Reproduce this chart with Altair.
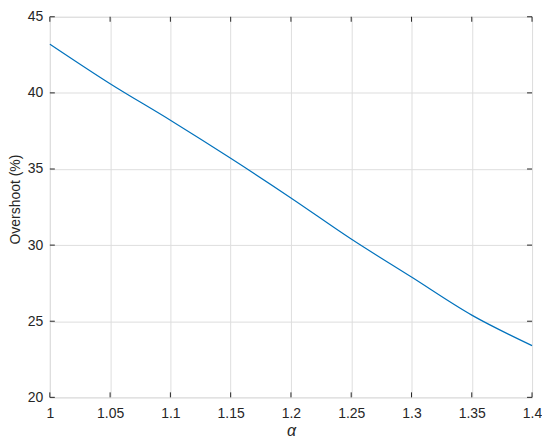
import altair as alt
import pandas as pd

alpha = [1.0, 1.05, 1.1, 1.15, 1.2, 1.25, 1.3, 1.35, 1.4]
overshoot = [43.2, 40.6, 38.2, 35.7, 33.1, 30.4, 27.9, 25.4, 23.4]
x_ticks = [1.0, 1.05, 1.1, 1.15, 1.2, 1.25, 1.3, 1.35, 1.4]
y_ticks = [20, 25, 30, 35, 40, 45]

W, H = 484, 382
INK = "#262626"
FONT = "Liberation Sans"

df = pd.DataFrame({"alpha": alpha, "overshoot": overshoot})
xt = pd.DataFrame({"xt": x_ticks})
yt = pd.DataFrame({"yt": y_ticks})

xs = alt.Scale(domain=[1.0, 1.4], nice=False, zero=False)
ys = alt.Scale(domain=[20, 45], nice=False, zero=False)

line = alt.Chart(df).mark_line(color="#0072BD", strokeWidth=1.2, interpolate="monotone").encode(
    x=alt.X("alpha:Q", scale=xs, axis=alt.Axis(
        values=x_ticks, title="α", titleFontStyle="italic", titleFontWeight="normal",
        titleFontSize=16, titleColor=INK, titleX=W / 2, titleY=38,
        titleBaseline="alphabetic", titleAlign="center", labelFontSize=14,
        labelColor=INK, labelPadding=9, tickSize=0, domain=False,
        grid=True, gridColor="#dedede", labelFlush=False,
        labelExpr="format(datum.value, '.3~f')")),
    y=alt.Y("overshoot:Q", scale=ys, axis=alt.Axis(
        values=y_ticks, title="Overshoot (%)", titleFontWeight="normal",
        titleFontSize=14, titleColor=INK, titleX=-30, titleY=183, titleAngle=270,
        titleBaseline="alphabetic", titleAlign="center", labelFontSize=14,
        labelColor=INK, labelPadding=7, tickSize=0, domain=False,
        grid=True, gridColor="#dedede", labelFlush=False)),
)

tk = dict(color=INK, strokeWidth=1)
xb = alt.Chart(xt).mark_rule(**tk).encode(x=alt.X("xt:Q", scale=xs), y=alt.value(H), y2=alt.value(H - 5))
xtop = alt.Chart(xt).mark_rule(**tk).encode(x=alt.X("xt:Q", scale=xs), y=alt.value(0), y2=alt.value(5))
yl = alt.Chart(yt).mark_rule(**tk).encode(y=alt.Y("yt:Q", scale=ys), x=alt.value(0), x2=alt.value(5))
yr = alt.Chart(yt).mark_rule(**tk).encode(y=alt.Y("yt:Q", scale=ys), x=alt.value(W), x2=alt.value(W - 5))

chart = alt.layer(line, xb, xtop, yl, yr).properties(
    width=W, height=H,
    autosize=alt.AutoSizeParams(type="none"),
    padding={"left": 42, "top": 8, "right": 10, "bottom": 40},
).configure_view(stroke=INK, strokeWidth=1).configure(font=FONT, background="white")

chart.save("out.html", embed_options={"renderer": "svg", "actions": False})
